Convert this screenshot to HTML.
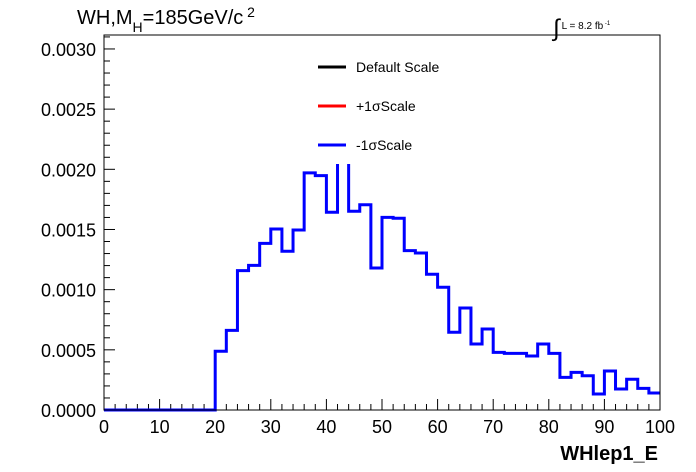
<!DOCTYPE html>
<html><head><meta charset="utf-8"><style>
html,body{margin:0;padding:0;background:#fff;}
svg{display:block;font-family:"Liberation Sans",Arial,sans-serif;}
</style></head><body>
<svg id="chart" width="696" height="472" viewBox="0 0 696 472">
<rect x="0" y="0" width="696" height="472" fill="#fff"/>
<g id="ticks"></g>
<path id="hist" fill="none" stroke="#0000ff" stroke-width="3"/>
<rect x="308" y="44" width="160" height="120" fill="#fff"/>
<rect x="104" y="35" width="556" height="375" fill="none" stroke="#000" stroke-width="1"/>
<g font-size="14">
 <line x1="318" y1="67" x2="346" y2="67" stroke="#000" stroke-width="3"/>
 <text x="356" y="72">Default Scale</text>
 <line x1="318" y1="106" x2="346" y2="106" stroke="#ff0000" stroke-width="3"/>
 <text x="356" y="111">+1σScale</text>
 <line x1="318" y1="145" x2="346" y2="145" stroke="#0000ff" stroke-width="3"/>
 <text x="356" y="150">-1σScale</text>
</g>
<text x="77" y="24" font-size="20">WH,M<tspan font-size="14" dy="8">H</tspan><tspan dy="-8">=185GeV/c</tspan><tspan font-size="14" dy="-7"> 2</tspan></text>
<text x="553" y="36" font-size="24">∫<tspan font-size="10" dx="2" dy="-7">L = 8.2 fb</tspan><tspan font-size="6" dy="-4"> -1</tspan></text>
<text x="658" y="460" font-size="20" font-weight="bold" text-anchor="end">WHlep1_E</text>
</svg>
<script>
const binEdgesStart = 0, binWidth = 2;
const binValues = [0,0,0,0,0,0,0,0,0,0,
 0.000488,0.000662,0.001158,0.001202,0.001385,0.001504,0.001319,0.001496,0.00197,0.001947,
 0.001643,0.0023,0.001651,0.001706,0.00118,0.001601,0.001593,0.001324,0.001305,0.001128,
 0.00102,0.000646,0.000848,0.000548,0.000673,0.000479,0.000471,0.000471,0.000449,0.000548,
 0.000471,0.000271,0.000313,0.000285,0.000133,0.000324,0.000175,0.000255,0.00018,0.000141];
const xTickLabels = ["0","10","20","30","40","50","60","70","80","90","100"];
const yTickLabels = ["0.0000","0.0005","0.0010","0.0015","0.0020","0.0025","0.0030"];
const X0=104,X1=660,Y0=410,Y1=35,XMIN=0,XMAX=100,YMIN=0,YMAX=0.003116;
const sx=v=>X0+(v-XMIN)/(XMAX-XMIN)*(X1-X0);
const sy=v=>Y0-(v-YMIN)/(YMAX-YMIN)*(Y0-Y1);
const NS="http://www.w3.org/2000/svg";
let d="M"+sx(binEdgesStart)+","+sy(binValues[0]);
binValues.forEach((v,i)=>{const a=binEdgesStart+i*binWidth;d+=" L"+sx(a)+","+sy(v)+" L"+sx(a+binWidth)+","+sy(v);});
document.getElementById("hist").setAttribute("d",d);
const g=document.getElementById("ticks");
function ln(x1,y1,x2,y2){const l=document.createElementNS(NS,"line");l.setAttribute("x1",x1);l.setAttribute("y1",y1);l.setAttribute("x2",x2);l.setAttribute("y2",y2);l.setAttribute("stroke","#000");l.setAttribute("stroke-width","1");


g.appendChild(l);}
function tx(x,y,s,anchor,name){const t=document.createElementNS(NS,"text");t.setAttribute("x",x);t.setAttribute("y",y);t.setAttribute("font-size","18");t.setAttribute("text-anchor",anchor);t.textContent=s;


g.appendChild(t);}
for(let v=0;v<=100;v+=2){const x=sx(v);ln(x,Y0,x,Y0-(v%10===0?11:6));}
xTickLabels.forEach(s=>{tx(sx(parseFloat(s)),433,s,"middle","x-tick-label");});
for(let k=0;k<=31;k++){const v=k*0.0001;if(v>YMAX)break;const y=sy(v);ln(X0,y,X0+(k%5===0?11:6),y);}
yTickLabels.forEach(s=>{tx(96,sy(parseFloat(s))+7,s,"end","y-tick-label");});
</script>
</body></html>
